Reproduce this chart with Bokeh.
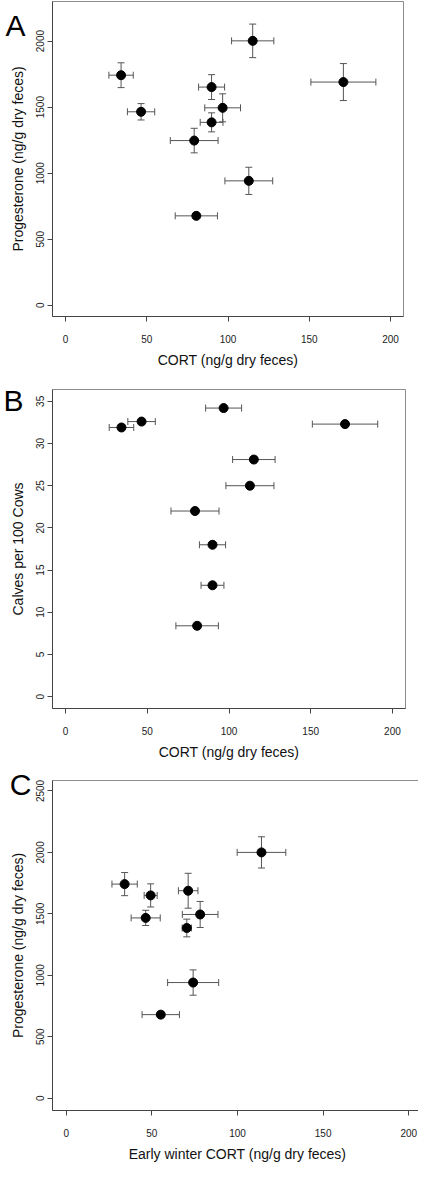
import math
from bokeh.plotting import figure
from bokeh.models import ColumnDataSource, Range1d, FixedTicker, LinearAxis
from bokeh.layouts import column
from bokeh.embed import file_html
from bokeh.resources import INLINE

# ---- data ----
cort = [115.2, 171.0, 34.2, 89.9, 96.7, 46.5, 89.9, 79.2, 112.8, 80.5]
cort_se = [13.0, 20.0, 7.5, 8.0, 11.0, 8.4, 7.0, 14.7, 14.7, 13.0]
prog = [2002, 1690, 1742, 1652, 1495, 1465, 1385, 1247, 942, 677]
prog_se = [127, 140, 94, 94, 106, 62, 72, 93, 103, 20]
calves = [28.1, 32.3, 31.9, 18.0, 34.2, 32.6, 13.2, 22.0, 25.0, 8.4]

early_cort = [114.0, 71.2, 34.1, 49.3, 78.2, 46.4, 70.4, 74.1, 55.2]
early_cort_se = [14.2, 5.7, 7.4, 3.8, 10.4, 8.5, 2.7, 14.9, 10.9]
prog_c = [2000, 1688, 1742, 1650, 1495, 1467, 1385, 941, 680]
prog_c_se = [127, 142, 94, 94, 106, 62, 72, 103, 20]

x_ticks = [0, 50, 100, 150, 200]
prog_ticks_a = [0, 500, 1000, 1500, 2000]
calves_ticks = [0, 5, 10, 15, 20, 25, 30, 35]
prog_ticks_c = [0, 500, 1000, 1500, 2000, 2500]

FONT = "Liberation Sans"
ERR = "#555555"


def panel(xs, xse, ys, yse, xr, yr, yticks, xlabel, ylabel, letter,
          fw, fh, left, top, bottom, letter_at, letter_standoff):
    w = 417
    p = figure(width=w, height=top + fh + bottom, output_backend="svg",
               toolbar_location=None, x_range=Range1d(*xr), y_range=Range1d(*yr))
    p.frame_width = fw
    p.frame_height = fh
    p.min_border_left = left
    p.min_border_right = w - left - fw
    p.min_border_top = top
    p.min_border_bottom = bottom
    p.xgrid.visible = False
    p.ygrid.visible = False
    p.outline_line_color = "#8c8c8c"
    p.outline_line_width = 1
    p.background_fill_color = "white"
    p.border_fill_color = "white"

    src = ColumnDataSource(dict(
        x=xs, y=ys,
        xlo=[a - b for a, b in zip(xs, xse)], xhi=[a + b for a, b in zip(xs, xse)],
    ))
    p.segment(x0="xlo", y0="y", x1="xhi", y1="y", source=src, line_color=ERR, line_width=1)
    p.scatter(x="xlo", y="y", source=src, marker="dash", size=7, angle=math.pi / 2,
              line_color=ERR, line_width=1)
    p.scatter(x="xhi", y="y", source=src, marker="dash", size=7, angle=math.pi / 2,
              line_color=ERR, line_width=1)
    if yse:
        src.data["ylo"] = [a - b for a, b in zip(ys, yse)]
        src.data["yhi"] = [a + b for a, b in zip(ys, yse)]
        p.segment(x0="x", y0="ylo", x1="x", y1="yhi", source=src, line_color=ERR, line_width=1)
        p.scatter(x="x", y="ylo", source=src, marker="dash", size=7,
                  line_color=ERR, line_width=1)
        p.scatter(x="x", y="yhi", source=src, marker="dash", size=7,
                  line_color=ERR, line_width=1)
    p.scatter("x", "y", source=src, size=9, color="black")

    for ax in (p.xaxis[0], p.yaxis[0]):
        ax.axis_line_color = "#444444"
        ax.major_tick_line_color = "#444444"
        ax.major_tick_out = 5
        ax.major_tick_in = 0
        ax.minor_tick_line_color = None
        ax.major_label_text_font = FONT
        ax.major_label_text_font_size = "10px"
        ax.major_label_text_color = "#222222"
        ax.axis_label_text_font = FONT
        ax.axis_label_text_font_size = "14px"
        ax.axis_label_text_font_style = "normal"
        ax.axis_label_text_color = "#111111"
    p.xaxis[0].ticker = FixedTicker(ticks=x_ticks)
    p.yaxis[0].ticker = FixedTicker(ticks=yticks)
    p.xaxis[0].axis_label = xlabel
    p.yaxis[0].axis_label = ylabel
    p.xaxis[0].major_label_standoff = 13
    p.xaxis[0].axis_label_standoff = 6
    p.yaxis[0].major_label_orientation = "vertical"
    p.yaxis[0].major_label_standoff = 3
    p.yaxis[0].axis_label_standoff = 8

    # panel letter, drawn as the single label of an extra (invisible) left axis
    lax = LinearAxis(ticker=FixedTicker(ticks=[letter_at]),
                     major_label_overrides={letter_at: letter},
                     axis_line_color=None, major_tick_line_color=None,
                     minor_tick_line_color=None, major_tick_out=0, major_tick_in=0,
                     major_label_standoff=letter_standoff,
                     major_label_text_font=FONT, major_label_text_font_size="30px",
                     major_label_text_color="black", major_label_orientation="horizontal")
    p.add_layout(lax, "left")
    return p


pa = panel(cort, cort_se, prog, prog_se, (-8, 208), (-85, 2300), prog_ticks_a,
           "CORT (ng/g dry feces)", "Progesterone (ng/g dry feces)", "A",
           fw=351, fh=315, left=50, top=1, bottom=62, letter_at=2250, letter_standoff=-19)
pb = panel(cort, cort_se, calves, None, (-8, 208), (-1.4, 36.4), calves_ticks,
           "CORT (ng/g dry feces)", "Calves per 100 Cows", "B",
           fw=353, fh=319, left=52, top=11, bottom=58, letter_at=35.1, letter_standoff=-17)
pc = panel(early_cort, early_cort_se, prog_c, prog_c_se, (-8, 208), (-100, 2585), prog_ticks_c,
           "Early winter CORT (ng/g dry feces)", "Progesterone (ng/g dry feces)", "C",
           fw=370, fh=330, left=45, top=14, bottom=51, letter_at=2577, letter_standoff=-25)

layout = column(pa, pb, pc, spacing=0)
open("out.html", "w").write(file_html(layout, INLINE))
